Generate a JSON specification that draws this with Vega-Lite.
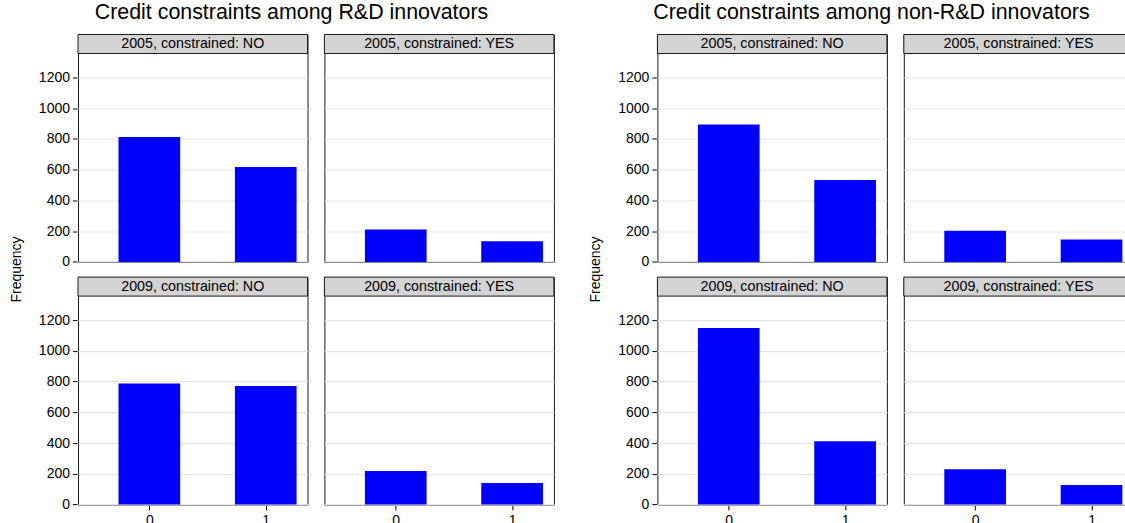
{
  "$schema": "https://vega.github.io/schema/vega-lite/v6.json",
  "padding": {"left": 10, "top": 1.5, "right": 0, "bottom": 0},
  "background": "white",
  "config": {
    "font": "Liberation Sans",
    "view": {"stroke": "#1a1a1a", "strokeWidth": 1},
    "style": {"guide-label": {"fontSize": 14, "font": "Liberation Sans", "fill": "#000"}},
    "axis": {"labelFont": "Liberation Sans", "labelFontSize": 14, "labelColor": "#000", "tickColor": "#000", "tickSize": 4.5, "domain": false, "titleFont": "Liberation Sans", "labelOverlap": false, "format": "d"},
    "title": {"font": "Liberation Sans", "fontSize": 21.4, "fontWeight": "normal", "color": "#000"},
    "header": {"titlePadding": 4}
  },
  "datasets": {
    "rd": [
      {"year": 2005, "constrained": "NO", "panel": "2005, constrained: NO", "value": 0, "freq": 813},
      {"year": 2005, "constrained": "NO", "panel": "2005, constrained: NO", "value": 1, "freq": 618},
      {"year": 2005, "constrained": "YES", "panel": "2005, constrained: YES", "value": 0, "freq": 211},
      {"year": 2005, "constrained": "YES", "panel": "2005, constrained: YES", "value": 1, "freq": 135},
      {"year": 2009, "constrained": "NO", "panel": "2009, constrained: NO", "value": 0, "freq": 787},
      {"year": 2009, "constrained": "NO", "panel": "2009, constrained: NO", "value": 1, "freq": 771},
      {"year": 2009, "constrained": "YES", "panel": "2009, constrained: YES", "value": 0, "freq": 218},
      {"year": 2009, "constrained": "YES", "panel": "2009, constrained: YES", "value": 1, "freq": 140}
    ],
    "nonrd": [
      {"year": 2005, "constrained": "NO", "panel": "2005, constrained: NO", "value": 0, "freq": 894},
      {"year": 2005, "constrained": "NO", "panel": "2005, constrained: NO", "value": 1, "freq": 533},
      {"year": 2005, "constrained": "YES", "panel": "2005, constrained: YES", "value": 0, "freq": 202},
      {"year": 2005, "constrained": "YES", "panel": "2005, constrained: YES", "value": 1, "freq": 146},
      {"year": 2009, "constrained": "NO", "panel": "2009, constrained: NO", "value": 0, "freq": 1148},
      {"year": 2009, "constrained": "NO", "panel": "2009, constrained: NO", "value": 1, "freq": 412},
      {"year": 2009, "constrained": "YES", "panel": "2009, constrained: YES", "value": 0, "freq": 229},
      {"year": 2009, "constrained": "YES", "panel": "2009, constrained: YES", "value": 1, "freq": 127}
    ]
  },
  "spacing": 34.4,
  "hconcat": [
    {
      "data": {"name": "rd"},
      "title": {"text": "Credit constraints among R&D innovators", "anchor": "middle", "offset": 10, "dx": 9},
      "facet": {
        "row": {"field": "year", "type": "ordinal", "header": {"title": "Frequency", "labels": false, "titleFontSize": 14, "titleFontWeight": "normal", "titleFont": "Liberation Sans", "titleColor": "#000"}},
        "column": {"field": "constrained", "type": "nominal", "sort": ["NO", "YES"], "header": {"title": null, "labels": false}}
      },
      "spacing": {"row": 13.6, "column": 14.4},
      "spec": {
        "width": 229.5,
        "height": 227.4,
        "layer": [
          {
            "mark": {"type": "bar", "color": "#0000ff", "width": 61.7},
            "encoding": {
              "x": {"field": "value", "type": "quantitative", "scale": {"domain": [-0.57, 1.316], "nice": false, "zero": false}, "axis": {"values": [0, 1], "tickCount": 5, "title": null, "grid": false, "labelPadding": 3, "labelFontSize": 14}},
              "y": {"field": "freq", "type": "quantitative", "scale": {"domain": [0, 1479.6], "nice": false}, "axis": {"values": [0, 200, 400, 600, 800, 1000, 1200], "tickCount": 12, "title": null, "grid": true, "gridColor": "#e4e4e4", "gridWidth": 1.2, "labelPadding": 3, "labelOverlap": false, "labelBound": false, "labelFontSize": 14}}
            }
          },
          {
            "transform": [{"filter": "datum.value == 0"}],
            "mark": {"type": "rect", "fill": "#d3d3d3", "stroke": "#1a1a1a", "strokeWidth": 1},
            "encoding": {"y": {"datum": 1356}, "y2": {"datum": 1479.6}}
          },
          {
            "transform": [{"filter": "datum.value == 0"}],
            "mark": {"type": "text", "fontSize": 14.3, "baseline": "middle", "color": "#000", "font": "Liberation Sans"},
            "encoding": {"y": {"datum": 1418}, "text": {"field": "panel"}}
          }
        ]
      }
    },
    {
      "data": {"name": "nonrd"},
      "title": {"text": "Credit constraints among non-R&D innovators", "anchor": "middle", "offset": 10, "dx": 9.6},
      "facet": {
        "row": {"field": "year", "type": "ordinal", "header": {"title": "Frequency", "labels": false, "titleFontSize": 14, "titleFontWeight": "normal", "titleFont": "Liberation Sans", "titleColor": "#000"}},
        "column": {"field": "constrained", "type": "nominal", "sort": ["NO", "YES"], "header": {"title": null, "labels": false}}
      },
      "spacing": {"row": 13.6, "column": 14.4},
      "spec": {
        "width": 229.5,
        "height": 227.4,
        "layer": [
          {
            "mark": {"type": "bar", "color": "#0000ff", "width": 61.7},
            "encoding": {
              "x": {"field": "value", "type": "quantitative", "scale": {"domain": [-0.57, 1.316], "nice": false, "zero": false}, "axis": {"values": [0, 1], "tickCount": 5, "title": null, "grid": false, "labelPadding": 3, "labelFontSize": 14}},
              "y": {"field": "freq", "type": "quantitative", "scale": {"domain": [0, 1479.6], "nice": false}, "axis": {"values": [0, 200, 400, 600, 800, 1000, 1200], "tickCount": 12, "title": null, "grid": true, "gridColor": "#e4e4e4", "gridWidth": 1.2, "labelPadding": 3, "labelOverlap": false, "labelBound": false, "labelFontSize": 14}}
            }
          },
          {
            "transform": [{"filter": "datum.value == 0"}],
            "mark": {"type": "rect", "fill": "#d3d3d3", "stroke": "#1a1a1a", "strokeWidth": 1},
            "encoding": {"y": {"datum": 1356}, "y2": {"datum": 1479.6}}
          },
          {
            "transform": [{"filter": "datum.value == 0"}],
            "mark": {"type": "text", "fontSize": 14.3, "baseline": "middle", "color": "#000", "font": "Liberation Sans"},
            "encoding": {"y": {"datum": 1418}, "text": {"field": "panel"}}
          }
        ]
      }
    }
  ]
}
